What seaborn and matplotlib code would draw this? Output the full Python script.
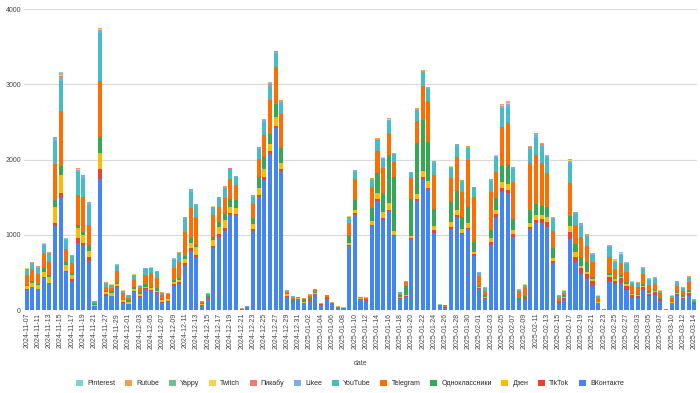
import pandas as pd
import seaborn as sns
import matplotlib
matplotlib.use('Agg')
import matplotlib.pyplot as plt

# dates (x categories), labels shown on every second bar
dates = [
    "2024-11-07", "2024-11-09", "2024-11-11", "2024-11-12", "2024-11-13", "2024-11-14", "2024-11-15", "2024-11-16",
    "2024-11-17", "2024-11-18", "2024-11-19", "2024-11-20", "2024-11-21", "2024-11-25", "2024-11-27", "2024-11-28",
    "2024-11-29", "2024-11-30", "2024-12-01", "2024-12-02", "2024-12-03", "2024-12-04", "2024-12-05", "2024-12-06",
    "2024-12-07", "2024-12-08", "2024-12-09", "2024-12-10", "2024-12-11", "2024-12-12", "2024-12-13", "2024-12-14",
    "2024-12-15", "2024-12-16", "2024-12-17", "2024-12-18", "2024-12-19", "2024-12-20", "2024-12-21", "2024-12-22",
    "2024-12-23", "2024-12-24", "2024-12-25", "2024-12-26", "2024-12-27", "2024-12-28", "2024-12-29", "2024-12-30",
    "2024-12-31", "2025-01-01", "2025-01-02", "2025-01-03", "2025-01-04", "2025-01-05", "2025-01-06", "2025-01-07",
    "2025-01-08", "2025-01-09", "2025-01-10", "2025-01-11", "2025-01-12", "2025-01-13", "2025-01-14", "2025-01-15",
    "2025-01-16", "2025-01-17", "2025-01-18", "2025-01-19", "2025-01-20", "2025-01-21", "2025-01-22", "2025-01-23",
    "2025-01-24", "2025-01-25", "2025-01-26", "2025-01-27", "2025-01-28", "2025-01-29", "2025-01-30", "2025-01-31",
    "2025-02-01", "2025-02-02", "2025-02-03", "2025-02-04", "2025-02-05", "2025-02-06", "2025-02-07", "2025-02-08",
    "2025-02-09", "2025-02-10", "2025-02-11", "2025-02-12", "2025-02-13", "2025-02-14", "2025-02-15", "2025-02-16",
    "2025-02-17", "2025-02-18", "2025-02-19", "2025-02-20", "2025-02-21", "2025-02-22", "2025-02-23", "2025-02-24",
    "2025-02-25", "2025-02-26", "2025-02-27", "2025-03-01", "2025-03-03", "2025-03-04", "2025-03-05", "2025-03-06",
    "2025-03-07", "2025-03-09", "2025-03-10", "2025-03-11", "2025-03-12", "2025-03-13", "2025-03-14",
]

vkontakte = [
    265, 300, 275, 430, 355, 1120, 1485, 510, 385, 887, 850, 652, 55, 1743, 190, 182, 300, 98, 75, 244,
    177, 275, 253, 222, 98, 111, 324, 346, 585, 789, 710, 67, 150, 829, 976, 1051, 1264, 1264, 12, 35,
    1055, 1499, 1729, 2075, 2417, 1854, 177, 111, 146, 89, 120, 200, 72, 146, 89, 40, 22, 856, 1264, 146,
    124, 1122, 1450, 1197, 1322, 985, 146, 177, 945, 1450, 1743, 1605, 1029, 50, 30, 1078, 1242, 1007, 1078, 718,
    275, 146, 865, 1233, 1574, 1552, 967, 133, 146, 1073, 1153, 1153, 1100, 621, 98, 146, 945, 634, 479, 408,
    324, 89, 3, 377, 346, 364, 266, 164, 155, 266, 186, 200, 120, 3, 89, 190, 142, 190, 80,
]
tiktok = [
    12, 10, 10, 15, 10, 33, 66, 15, 22, 66, 36, 58, 5, 133, 18, 10, 18, 13, 10, 13,
    13, 13, 13, 13, 13, 8, 22, 22, 36, 31, 22, 5, 5, 27, 31, 44, 22, 13, 0, 3,
    23, 31, 36, 40, 35, 22, 13, 8, 5, 5, 8, 10, 3, 12, 3, 3, 5, 9, 22, 5,
    5, 9, 22, 23, 9, 13, 10, 13, 13, 22, 22, 22, 35, 5, 12, 31, 22, 22, 17, 27,
    13, 18, 35, 40, 53, 44, 40, 8, 9, 36, 44, 58, 66, 35, 5, 18, 88, 76, 75, 66,
    66, 5, 3, 66, 44, 57, 58, 36, 31, 36, 27, 35, 22, 4, 10, 23, 22, 32, 10,
]
dzen = [
    45, 55, 45, 65, 70, 213, 245, 73, 58, 133, 111, 79, 10, 208, 27, 35, 28, 20, 25, 27,
    22, 22, 22, 22, 22, 22, 31, 31, 53, 76, 102, 15, 10, 75, 102, 102, 89, 76, 0, 0,
    66, 97, 106, 93, 107, 75, 18, 8, 5, 8, 12, 13, 0, 8, 3, 5, 0, 31, 44, 5,
    10, 57, 80, 79, 97, 53, 15, 5, 31, 71, 84, 89, 54, 5, 0, 66, 66, 44, 67, 31,
    13, 5, 53, 57, 80, 80, 57, 8, 9, 53, 67, 53, 67, 40, 10, 13, 85, 57, 36, 36,
    18, 8, 0, 23, 18, 22, 18, 9, 9, 22, 18, 18, 9, 0, 10, 18, 13, 22, 8,
]
odnoklassniki = [
    15, 15, 15, 45, 30, 90, 124, 36, 23, 45, 44, 76, 15, 213, 22, 22, 31, 5, 30, 26,
    23, 31, 22, 31, 13, 10, 22, 31, 44, 66, 31, 10, 18, 45, 66, 76, 97, 110, 0, 5,
    84, 138, 160, 133, 182, 200, 14, 15, 8, 40, 30, 12, 4, 5, 4, 5, 0, 102, 133, 10,
    12, 165, 266, 262, 634, 714, 30, 124, 488, 674, 670, 523, 226, 5, 0, 266, 258, 169, 213, 133,
    23, 31, 111, 156, 213, 253, 142, 8, 22, 168, 146, 124, 142, 124, 5, 22, 133, 107, 111, 133,
    35, 5, 0, 31, 22, 23, 35, 22, 13, 22, 22, 13, 9, 0, 10, 22, 18, 22, 13,
]
telegram = [
    130, 160, 140, 210, 178, 487, 727, 173, 133, 399, 457, 266, 15, 741, 44, 44, 142, 86, 15, 89,
    53, 125, 178, 142, 54, 57, 155, 213, 315, 391, 377, 10, 22, 288, 200, 213, 271, 200, 0, 0,
    178, 244, 297, 453, 483, 452, 22, 22, 5, 5, 20, 30, 0, 25, 0, 0, 5, 164, 275, 5,
    10, 279, 297, 333, 297, 208, 18, 53, 275, 297, 461, 533, 452, 5, 20, 311, 443, 323, 621, 590,
    128, 57, 510, 354, 506, 554, 501, 100, 116, 630, 652, 563, 443, 235, 46, 23, 434, 257, 266, 213,
    200, 57, 5, 213, 111, 164, 133, 102, 102, 133, 80, 80, 62, 4, 40, 71, 58, 111, 10,
]
youtube = [
    75, 80, 80, 105, 110, 298, 391, 124, 102, 301, 253, 266, 15, 643, 54, 40, 71, 31, 30, 67,
    32, 84, 66, 80, 22, 12, 111, 111, 173, 212, 142, 8, 10, 102, 111, 133, 128, 111, 5, 5,
    102, 133, 169, 177, 182, 155, 13, 13, 4, 4, 10, 12, 6, 3, 0, 3, 0, 71, 102, 3,
    3, 97, 147, 115, 155, 98, 15, 5, 75, 147, 177, 164, 155, 0, 0, 142, 155, 142, 155, 120,
    45, 31, 142, 200, 257, 222, 164, 10, 31, 182, 244, 235, 213, 156, 26, 31, 266, 142, 155, 128,
    89, 22, 0, 124, 102, 102, 102, 35, 45, 66, 66, 66, 31, 0, 27, 40, 35, 53, 13,
]
likee = [
    7, 6, 8, 10, 6, 40, 57, 9, 3, 30, 30, 22, 2, 35, 5, 5, 7, 5, 5, 5,
    5, 5, 7, 5, 5, 4, 9, 5, 14, 31, 10, 2, 3, 7, 9, 12, 9, 5, 2, 2,
    9, 18, 22, 22, 18, 14, 4, 5, 2, 2, 3, 3, 2, 2, 1, 1, 1, 7, 9, 1,
    2, 9, 9, 12, 14, 5, 4, 4, 5, 9, 14, 10, 14, 2, 2, 9, 9, 9, 12, 9,
    5, 6, 11, 9, 31, 31, 14, 3, 5, 18, 31, 12, 12, 9, 4, 5, 31, 14, 16, 11,
    9, 6, 1, 12, 12, 14, 9, 7, 5, 9, 9, 9, 5, 1, 6, 9, 6, 9, 3,
]
pikabu = [
    2, 2, 2, 2, 2, 4, 9, 2, 1, 4, 2, 4, 0, 5, 1, 1, 2, 1, 1, 1,
    1, 1, 2, 1, 1, 1, 2, 1, 4, 2, 3, 0, 1, 2, 2, 3, 2, 1, 0, 0,
    2, 2, 4, 5, 4, 4, 1, 1, 0, 0, 1, 1, 0, 0, 0, 0, 0, 2, 2, 0,
    0, 2, 2, 3, 4, 1, 1, 1, 1, 2, 4, 3, 4, 0, 0, 2, 2, 2, 3, 2,
    1, 1, 3, 2, 4, 6, 4, 1, 1, 4, 4, 3, 3, 2, 1, 1, 4, 4, 4, 3,
    2, 1, 0, 3, 3, 3, 2, 2, 1, 2, 2, 2, 1, 0, 1, 2, 1, 2, 1,
]
twitch = [
    3, 2, 3, 4, 2, 6, 15, 3, 1, 6, 4, 5, 1, 8, 2, 2, 2, 2, 2, 2,
    2, 2, 3, 2, 2, 1, 3, 2, 5, 4, 4, 1, 1, 3, 3, 5, 4, 2, 1, 1,
    3, 3, 5, 8, 5, 5, 1, 2, 0, 0, 1, 1, 0, 1, 0, 0, 0, 3, 3, 0,
    0, 3, 3, 5, 5, 2, 1, 1, 2, 3, 5, 4, 5, 1, 1, 3, 3, 3, 5, 3,
    2, 2, 4, 3, 5, 9, 5, 1, 2, 6, 5, 5, 5, 3, 1, 2, 7, 5, 6, 4,
    3, 2, 0, 5, 5, 5, 3, 3, 2, 3, 3, 3, 2, 0, 2, 3, 2, 3, 1,
]
yappy = [
    1, 1, 1, 2, 1, 3, 8, 2, 0, 3, 2, 3, 0, 3, 1, 1, 1, 1, 1, 1,
    1, 1, 1, 1, 1, 1, 2, 1, 3, 1, 2, 0, 0, 1, 2, 2, 1, 1, 0, 0,
    2, 2, 3, 4, 3, 3, 0, 1, 0, 0, 0, 0, 0, 0, 0, 0, 0, 1, 2, 0,
    0, 2, 2, 2, 3, 1, 1, 0, 1, 2, 3, 2, 3, 0, 0, 2, 2, 2, 2, 2,
    1, 1, 2, 2, 3, 4, 3, 0, 1, 3, 3, 2, 2, 2, 1, 1, 3, 2, 3, 2,
    2, 1, 0, 2, 2, 3, 2, 1, 1, 2, 2, 2, 1, 0, 1, 2, 1, 2, 0,
]
rutube = [
    4, 3, 4, 5, 3, 8, 20, 4, 2, 8, 5, 7, 1, 10, 3, 3, 3, 3, 2, 3,
    3, 3, 4, 3, 3, 2, 4, 3, 7, 5, 5, 1, 1, 4, 4, 6, 5, 3, 1, 1,
    4, 4, 7, 10, 7, 7, 2, 3, 1, 1, 2, 1, 1, 1, 1, 0, 1, 4, 5, 1,
    1, 5, 4, 6, 7, 3, 2, 2, 3, 4, 7, 5, 7, 1, 1, 4, 4, 4, 6, 4,
    3, 3, 5, 4, 7, 12, 7, 2, 3, 9, 7, 6, 6, 4, 2, 3, 9, 7, 8, 5,
    4, 3, 0, 6, 6, 7, 4, 4, 3, 5, 4, 5, 3, 0, 3, 4, 3, 4, 2,
]
pinterest = [
    1, 1, 2, 2, 1, 4, 10, 2, 1, 3, 2, 3, 1, 5, 1, 1, 2, 1, 1, 1,
    1, 1, 1, 1, 1, 1, 2, 1, 3, 2, 2, 1, 1, 1, 2, 3, 2, 1, 1, 1,
    2, 2, 3, 4, 3, 3, 1, 1, 1, 1, 1, 1, 1, 1, 1, 1, 1, 1, 2, 1,
    1, 2, 2, 3, 3, 1, 1, 1, 1, 2, 3, 2, 3, 1, 1, 2, 2, 2, 3, 2,
    1, 1, 2, 2, 3, 5, 3, 1, 1, 4, 3, 3, 3, 2, 1, 1, 4, 3, 3, 2,
    2, 1, 1, 3, 3, 3, 2, 1, 1, 2, 2, 2, 1, 1, 1, 2, 1, 2, 1,
]

# legend order (top of stack first)
platforms = ["Pinterest", "Rutube", "Yappy", "Twitch", "Пикабу", "Likee",
             "YouTube", "Telegram", "Одноклассники", "Дзен", "TikTok", "ВКонтакте"]
series = [pinterest, rutube, yappy, twitch, pikabu, likee,
          youtube, telegram, odnoklassniki, dzen, tiktok, vkontakte]
colors = ["#7ED1D7", "#FF994D", "#71C287", "#FCD04F", "#F07B72", "#7BAAF7",
          "#46BDC6", "#FF6D01", "#34A853", "#FBBC04", "#EA4335", "#4285F4"]

rows = []
for name, vals in zip(platforms, series):
    for i, v in enumerate(vals):
        rows.append({"pos": i, "platform": name, "count": v})
df = pd.DataFrame(rows)

sns.set_theme(style="white")
plt.rcParams['font.family'] = ['Liberation Sans', 'DejaVu Sans']

fig, ax = plt.subplots(figsize=(7, 3.93), dpi=100)
fig.subplots_adjust(left=0.034, right=0.996, bottom=0.211, top=0.977)

sns.histplot(data=df, x="pos", weights="count", hue="platform", hue_order=platforms,
             palette=dict(zip(platforms, colors)), multiple="stack", discrete=True,
             shrink=0.72, alpha=1, linewidth=0, ax=ax)

ax.set_xlim(-0.5, len(dates) - 0.5)
ax.set_ylim(0, 4000)
ax.set_yticks([0, 1000, 2000, 3000, 4000])
ax.set_yticklabels(["0", "1000", "2000", "3000", "4000"], fontsize=5, color="#444444")
ax.set_xticks(range(0, len(dates), 2))
ax.set_xticklabels(dates[::2], rotation=90, fontsize=5, color="#444444")
ax.tick_params(axis="both", length=0, pad=2)
ax.yaxis.grid(True, color="#d9d9d9", linewidth=0.8)
ax.set_axisbelow(True)
sns.despine(ax=ax, left=True, bottom=True)
ax.axhline(0, color="#333333", linewidth=0.6)
ax.set_ylabel("")
ax.set_xlabel("date", fontsize=5, color="#444444", labelpad=8)

sns.move_legend(ax, "center", bbox_to_anchor=(0.5, 0.024), bbox_transform=fig.transFigure,
                ncol=12, title=None, frameon=False, fontsize=5, handlelength=1.0,
                handleheight=1.0, columnspacing=1.4, handletextpad=0.6, borderpad=0)

plt.savefig("out.png", dpi=100)
